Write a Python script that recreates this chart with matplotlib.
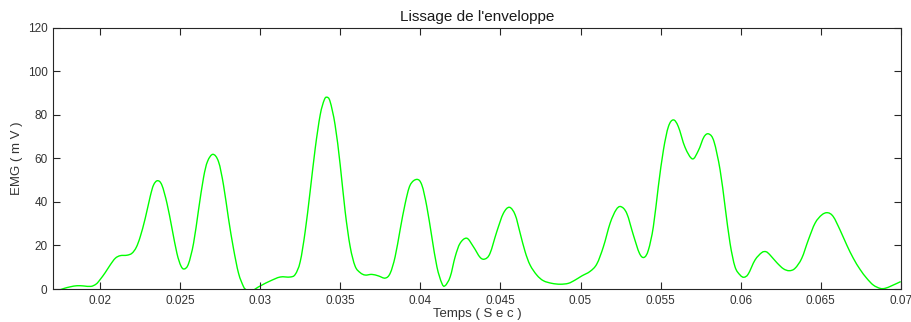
import matplotlib
matplotlib.use("Agg")
import matplotlib.pyplot as plt
from matplotlib.path import Path
from matplotlib.patches import PathPatch
from matplotlib.ticker import FuncFormatter

# Smoothed EMG envelope samples
temps = [
    0.01705, 0.01767, 0.01813, 0.01855, 0.01896, 0.01942, 0.01975, 0.02000,
    0.02031, 0.02062, 0.02094, 0.02125, 0.02167, 0.02198, 0.02225, 0.02250,
    0.02281, 0.02312, 0.02333, 0.02358, 0.02385, 0.02417, 0.02448, 0.02479,
    0.02504, 0.02525, 0.02551, 0.02583, 0.02614, 0.02645, 0.02670,
    0.02704, 0.02739, 0.02770, 0.02801, 0.02832, 0.02864, 0.02895, 0.02910,
    0.02937, 0.02968, 0.03010, 0.03062, 0.03124, 0.03186, 0.03218, 0.03249,
    0.03280, 0.03311, 0.03343, 0.03374, 0.03399, 0.03416, 0.03436, 0.03467,
    0.03499, 0.03530, 0.03561, 0.03592, 0.03624, 0.03655, 0.03697, 0.03738,
    0.03780, 0.03811, 0.03842, 0.03873, 0.03905, 0.03936, 0.03978, 0.04009,
    0.04040, 0.04071, 0.04103, 0.04134, 0.04154, 0.04186, 0.04217, 0.04248,
    0.04290, 0.04331, 0.04373, 0.04404, 0.04435, 0.04477, 0.04518, 0.04556,
    0.04592, 0.04623, 0.04654, 0.04685, 0.04727, 0.04768, 0.04821, 0.04873,
    0.04924, 0.04966, 0.05008, 0.05060, 0.05102, 0.05143, 0.05185, 0.05222,
    0.05252, 0.05289, 0.05330, 0.05368, 0.05397, 0.05424, 0.05455, 0.05486,
    0.05518, 0.05549, 0.05580, 0.05611, 0.05653, 0.05699, 0.05736, 0.05772,
    0.05803, 0.05834, 0.05872, 0.05903, 0.05934, 0.05965, 0.05997, 0.06021,
    0.06048, 0.06090, 0.06132, 0.06159, 0.06184, 0.06226, 0.06267, 0.06304,
    0.06340, 0.06382, 0.06423, 0.06465, 0.06507, 0.06544, 0.06579, 0.06621,
    0.06663, 0.06704, 0.06746, 0.06788, 0.06829, 0.06871, 0.06902, 0.06944,
    0.07000,
]
emg = [
    -1.5, 0.1, 1.0, 1.5, 1.4, 1.2, 2.3, 4.4,
    7.5, 11.0, 14.1, 15.3, 15.5, 16.4, 19.1, 24.0,
    32.4, 42.4, 47.7, 49.7, 47.7, 39.3, 27.9, 16.4,
    10.6, 9.2, 11.5, 21.0, 36.3, 51.0, 58.5,
    61.8, 58.4, 47.7, 32.4, 18.7, 7.2, 1.1, -0.3,
    -2.0, 0.0, 1.8, 3.7, 5.5, 5.5, 6.7, 12.5,
    26.3, 44.7, 64.6, 79.9, 86.7, 88.0, 86.0, 75.3,
    56.9, 35.5, 19.5, 10.5, 7.5, 6.4, 6.7, 6.0,
    5.0, 7.2, 14.8, 27.1, 39.3, 47.7, 50.3, 47.7,
    37.8, 24.0, 10.2, 2.6, 1.5, 5.6, 14.8, 21.0,
    23.3, 19.4, 14.5, 13.8, 16.4, 26.3, 34.7, 37.5,
    34.0, 25.6, 17.1, 11.0, 6.4, 3.8, 2.6, 2.2,
    2.6, 4.1, 6.0, 8.1, 11.5, 19.4, 30.2, 36.3,
    37.8, 34.7, 24.8, 16.4, 14.5, 17.9, 28.6, 47.0,
    63.8, 74.5, 77.6, 74.5, 65.0, 59.7, 63.5, 69.9,
    71.1, 67.6, 54.6, 37.8, 21.0, 10.2, 6.4, 5.4,
    6.9, 13.3, 16.7, 17.1, 15.6, 12.1, 9.3, 8.4,
    9.5, 14.1, 22.5, 30.2, 34.0, 35.0, 33.2, 27.1,
    20.2, 14.1, 9.0, 4.9, 1.8, 0.3, 0.3, 1.5,
    3.4,
]

x_ticks = [0.02, 0.025, 0.03, 0.035, 0.04, 0.045, 0.05, 0.055, 0.06, 0.065, 0.07]
y_ticks = [0, 20, 40, 60, 80, 100, 120]


def smooth_path(xs, ys):
    """Catmull-Rom curve through the samples, as cubic Bezier segments."""
    pts = list(zip(xs, ys))
    n = len(pts)
    verts = [pts[0]]
    codes = [Path.MOVETO]
    for i in range(n - 1):
        p0 = pts[i - 1] if i > 0 else pts[i]
        p1 = pts[i]
        p2 = pts[i + 1]
        p3 = pts[i + 2] if i + 2 < n else pts[i + 1]
        c1 = (p1[0] + (p2[0] - p0[0]) / 6, p1[1] + (p2[1] - p0[1]) / 6)
        c2 = (p2[0] - (p3[0] - p1[0]) / 6, p2[1] - (p3[1] - p1[1]) / 6)
        verts += [c1, c2, p2]
        codes += [Path.CURVE4] * 3
    return Path(verts, codes)


plt.rcParams['font.family'] = ['Liberation Sans', 'DejaVu Sans']
text_color = '#333333'
axis_color = '#262626'

fig = plt.figure(figsize=(9.11, 3.22), dpi=100)
ax = fig.add_axes([53 / 911, 33 / 322, 847.7 / 911, 261.5 / 322])

curve = PathPatch(smooth_path(temps, emg), facecolor='none',
                  edgecolor='#00ff00', linewidth=1.0, transform=ax.transData)
ax.add_patch(curve)

ax.set_xlim(0.01705, 0.07)
ax.set_ylim(0, 120)
ax.set_xticks(x_ticks)
ax.set_yticks(y_ticks)
ax.xaxis.set_major_formatter(FuncFormatter(lambda v, p: f"{v:g}"))

ax.tick_params(direction='in', length=5, width=0.8, top=True, right=True,
               labelsize=8.5, color=axis_color, labelcolor=text_color, pad=4)
for s in ax.spines.values():
    s.set_color(axis_color)
    s.set_linewidth(0.8)

ax.set_title("Lissage de l'enveloppe", fontsize=11, color='#1a1a1a', pad=5)
ax.set_xlabel("Temps ( S e c )", fontsize=9.5, color=text_color, labelpad=1)
ax.set_ylabel("EMG ( m V )", fontsize=9.5, color=text_color, labelpad=3)

fig.savefig("out.png", dpi=100)
